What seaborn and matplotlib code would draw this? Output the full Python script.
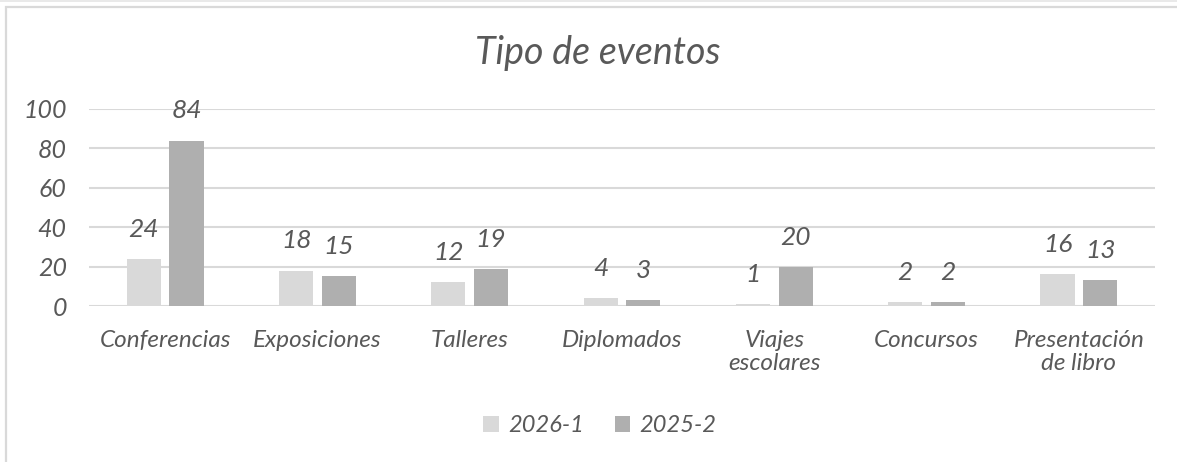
import matplotlib
matplotlib.use("Agg")
import matplotlib.pyplot as plt
import seaborn as sns
import pandas as pd
from matplotlib.patches import Rectangle, Patch

categories = ["Conferencias", "Exposiciones", "Talleres", "Diplomados",
              "Viajes\nescolares", "Concursos", "Presentación\nde libro"]
series_names = ["2026-1", "2025-2"]
values_2026_1 = [24, 18, 12, 4, 1, 2, 16]
values_2025_2 = [84, 15, 19, 3, 20, 2, 13]
y_ticks = [0, 20, 40, 60, 80, 100]
title = "Tipo de eventos"

df = pd.DataFrame({
    "categoria": categories * 2,
    "periodo": [series_names[0]] * len(categories) + [series_names[1]] * len(categories),
    "valor": values_2026_1 + values_2025_2,
})

sns.set_theme(style="white")
plt.rcParams["font.family"] = ["Lato", "DejaVu Sans"]

TEXT = "#595959"
GRID = "#d9d9d9"
palette = {series_names[0]: "#d9d9d9", series_names[1]: "#afafaf"}
font = dict(style="italic", weight="normal", color=TEXT)

fig = plt.figure(figsize=(11.77, 4.62), dpi=100)
W, H = 1177, 462

# outer chart frame
fig.patches.append(Rectangle((6 / W, -0.05), 1.1, (462 - 7) / H + 0.05,
                             transform=fig.transFigure, fill=False,
                             edgecolor="#d9d9d9", linewidth=1.6))
fig.patches.append(Rectangle((0, 1 - 2 / H), 1, 2 / H, transform=fig.transFigure,
                             facecolor="#e9e9e9", edgecolor="none"))

ax = fig.add_axes([89 / W, 1 - 306 / H, (1155 - 89) / W, (306 - 109) / H])
sns.barplot(data=df, x="categoria", y="valor", hue="periodo", palette=palette,
            width=0.56, gap=0.2, ax=ax, legend=False, saturation=1, linewidth=0)

ax.set_ylim(0, 100)
ax.set_xlim(-0.5, len(categories) - 0.5)
ax.set_yticks(y_ticks)
ax.yaxis.grid(True, color=GRID, linewidth=1.5)
ax.set_axisbelow(True)
for s in ax.spines.values():
    s.set_visible(False)
ax.set_xlabel("")
ax.set_ylabel("")
ax.tick_params(axis="both", length=0)
ax.tick_params(axis="y", pad=16)
ax.tick_params(axis="x", pad=17)
for lbl in ax.get_yticklabels():
    lbl.set_fontsize(18)
    lbl.set_fontstyle("italic")
    lbl.set_color(TEXT)
for lbl in ax.get_xticklabels():
    lbl.set_fontsize(17.5)
    lbl.set_fontstyle("italic")
    lbl.set_color(TEXT)
    lbl.set_linespacing(1.15)

for cont in ax.containers:
    ax.bar_label(cont, fmt="%d", padding=13, fontsize=19, **font)

fig.text(598 / W, 1 - 53 / H, title, ha="center", va="center", fontsize=27, **font)

handles = [Patch(facecolor=palette[n], edgecolor="none") for n in series_names]
leg = fig.legend(handles, series_names, loc="center", bbox_to_anchor=(600 / W, 1 - 426 / H),
                 ncol=2, frameon=False, handlelength=0.65, handleheight=0.65,
                 handletextpad=0.4, columnspacing=1.3,
                 prop=dict(size=17, style="italic", family=["Lato", "DejaVu Sans"]))
for t in leg.get_texts():
    t.set_color(TEXT)

fig.savefig("out.png", dpi=100, facecolor="white")
